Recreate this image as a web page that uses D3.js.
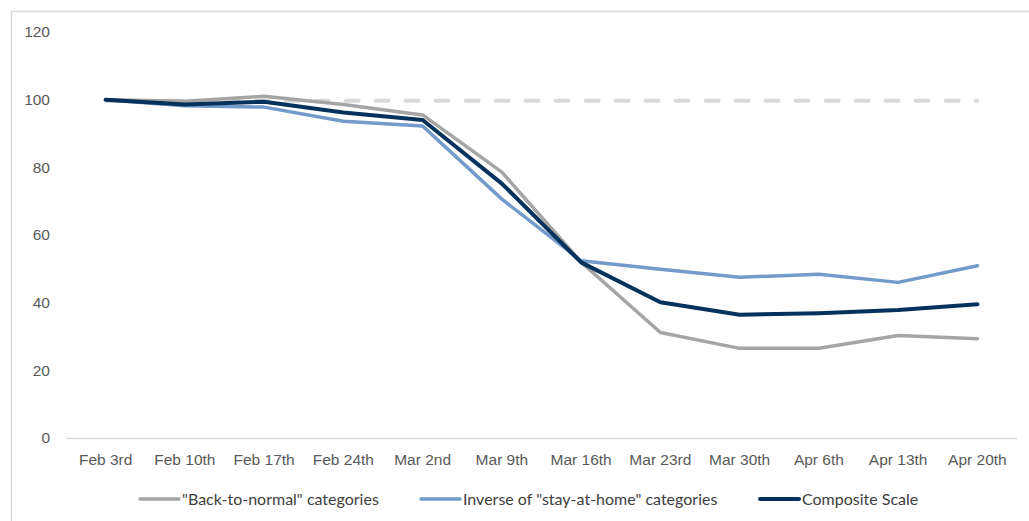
<!DOCTYPE html>
<html>
<head>
<meta charset="utf-8">
<script src="https://cdn.jsdelivr.net/npm/d3@7"></script>
<style>
  body { margin: 0; background: #fff; }
  svg { display: block; font-family: 'Lato', 'Noto Sans', sans-serif; }
  .tick text { fill: #595959; font-size: 15.5px; }
  .legend text { fill: #404040; font-size: 16px; }
</style>
</head>
<body>
<div id="chart"></div>
<script>
const weeks = ['Feb 3rd', 'Feb 10th', 'Feb 17th', 'Feb 24th', 'Mar 2nd', 'Mar 9th',
  'Mar 16th', 'Mar 23rd', 'Mar 30th', 'Apr 6th', 'Apr 13th', 'Apr 20th'];
const backToNormal = [100, 99.5, 101, 98.6, 95.5, 78.6, 52, 31.2, 26.5, 26.5, 30.3, 29.3];
const stayAtHomeInverse = [100, 98.2, 97.8, 93.6, 92.2, 70.6, 52.4, 49.9, 47.5, 48.4, 46, 50.9];
const composite = [100, 98.6, 99.4, 96.2, 94, 75.2, 51.9, 40.1, 36.4, 36.9, 37.8, 39.5];
const baseline = 100;
const yTicks = [0, 20, 40, 60, 80, 100, 120];

const series = [
  { name: '"Back-to-normal" categories', values: backToNormal, color: '#a5a5a5', width: 3.5 },
  { name: 'Inverse of "stay-at-home" categories', values: stayAtHomeInverse, color: '#729aca', width: 3.5 },
  { name: 'Composite Scale', values: composite, color: '#04325c', width: 4 },
];

const width = 1029;
const height = 521;
const margin = { top: 32, right: 11, bottom: 83, left: 66 };

const x = d3.scaleBand()
  .domain(weeks)
  .range([margin.left, width - margin.right - 1]);

const y = d3.scaleLinear()
  .domain([0, 120])
  .range([height - margin.bottom, margin.top]);

const xMid = (d) => x(d) + x.bandwidth() / 2;

const svg = d3.select('#chart').append('svg')
  .attr('width', width)
  .attr('height', height)
  .attr('viewBox', [0, 0, width, height]);

/* FRAME */

svg.append('path')
  .attr('d', `M11.5,${height}V11.5H${width}`)
  .attr('fill', 'none')
  .attr('stroke', '#d9d9d9')
  .attr('stroke-width', 1.5);

/* AXES */

svg.append('g')
  .attr('transform', `translate(${margin.left - 16}, 0)`)
  .call(d3.axisLeft(y).tickValues(yTicks).tickSize(0).tickPadding(0))
  .call((g) => g.select('.domain').remove());

svg.append('g')
  .attr('transform', `translate(0, ${y(0)})`)
  .call(d3.axisBottom(x).tickSize(0).tickPadding(16))
  .call((g) => g.select('.domain')
    .attr('stroke', '#d9d9d9')
    .attr('stroke-width', 1.5));

/* BASELINE */

svg.append('line')
  .attr('x1', xMid(weeks[0]))
  .attr('x2', xMid(weeks[weeks.length - 1]))
  .attr('y1', y(baseline) + 1)
  .attr('y2', y(baseline) + 1)
  .attr('stroke', '#d9d9d9')
  .attr('stroke-width', 4)
  .attr('stroke-linecap', 'round')
  .attr('stroke-dasharray', '13 17');

/* LINES */

const line = d3.line()
  .x((d, i) => xMid(weeks[i]))
  .y((d) => y(d));

svg.append('g')
  .selectAll('path')
  .data(series)
  .join('path')
  .attr('d', (d) => line(d.values))
  .attr('fill', 'none')
  .attr('stroke', (d) => d.color)
  .attr('stroke-width', (d) => d.width)
  .attr('stroke-linejoin', 'round')
  .attr('stroke-linecap', 'round');

/* LEGEND */

const legendX = [140, 421, 760];

const legend = svg.append('g')
  .attr('class', 'legend')
  .selectAll('g')
  .data(series)
  .join('g')
  .attr('transform', (d, i) => `translate(${legendX[i]}, 499)`);

legend.append('line')
  .attr('x1', 0)
  .attr('x2', 39)
  .attr('stroke', (d) => d.color)
  .attr('stroke-width', (d) => d.width)
  .attr('stroke-linecap', 'round');

legend.append('text')
  .attr('x', 42)
  .attr('dy', '0.35em')
  .text((d) => d.name);
</script>
</body>
</html>
